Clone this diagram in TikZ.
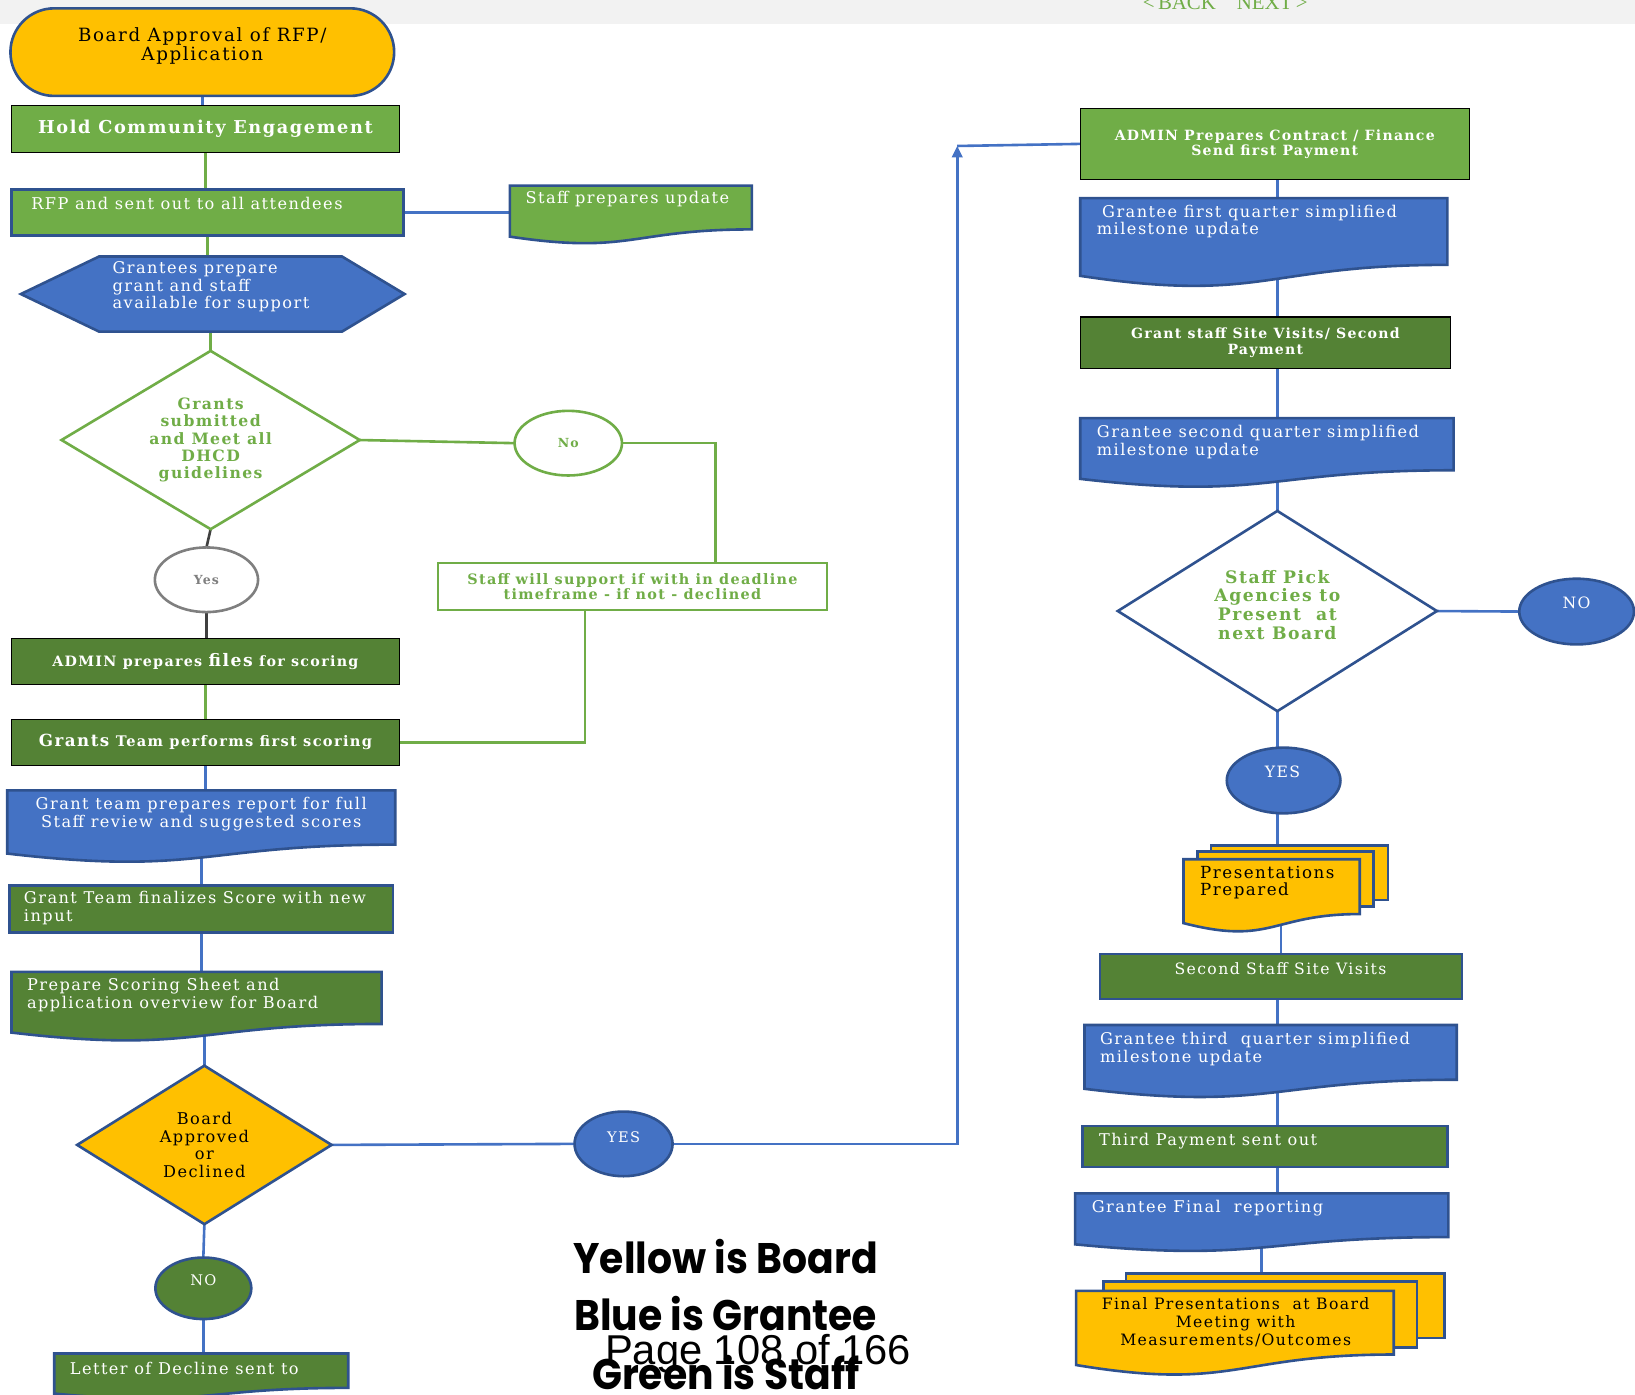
\documentclass[tikz,border=0pt]{standalone}
\usepackage{fontspec}
\setmainfont{DejaVu Serif}[LetterSpace=9]
\newfontfamily\navfont{Liberation Serif}
\newfontfamily\legendfont{Poppins}
\newfontfamily\pagefont{Liberation Sans}
\usepackage{graphicx}
\usepackage{tikz}
\usetikzlibrary{shapes.geometric,positioning,calc,arrows.meta,backgrounds}

\definecolor{gold}{HTML}{FFC000}
\definecolor{gblue}{HTML}{4472C4}
\definecolor{bdr}{HTML}{2F528F}
\definecolor{lgreen}{HTML}{70AD47}
\definecolor{dgreen}{HTML}{548235}
\definecolor{band}{HTML}{F2F2F2}
\definecolor{greyo}{HTML}{7F7F7F}
\definecolor{greyl}{HTML}{404040}

% document shape: box from top to right corner, wavy bottom below it
\newcommand{\docwave}[3]{%
  \filldraw[fill=#3, draw=bdr, line width=2.5pt]
    (#1.north west) -- (#1.north east) -- (#1.south east)
    .. controls ($(#1.south east)!0.5!(#1.south west)$)
    and ($(#1.south east)!0.5!(#1.south west)+(0,0.58*#2)$)
    .. ($(#1.south west)+(0,0.165*#2)$) -- cycle;}

\begin{document}
\begin{tikzpicture}[x=1pt, y=-1pt,
        every node/.style = {inner sep=0pt, outer sep=0pt},
        box/.style = {rectangle, anchor=north west},
        doc/.style = {rectangle, anchor=north west},
        sheet/.style = {rectangle, anchor=north west, fill=gold, draw=bdr, line width=2.5pt},
        bb/.style = {draw=bdr, line width=2.5pt},
        kb/.style = {draw=black, line width=1pt},
        dia/.style = {diamond, aspect=1.6, line width=2.5pt, align=center},
        oval/.style = {ellipse, line width=2.5pt},
        wtxt/.style = {text=white, align=left, font=\fontsize{15.5}{17}\selectfont},
        ktxt/.style = {text=black, align=left, font=\fontsize{15.5}{17}\selectfont},
        wbold/.style = {text=white, align=center, font=\bfseries\fontsize{13.5}{15}\selectfont},
        gbold/.style = {text=lgreen, align=center, font=\bfseries\fontsize{15}{16.7}\selectfont},
        legendtxt/.style = {anchor=base, font=\legendfont\bfseries\fontsize{41}{41}\selectfont},
        bline/.style = {draw=gblue, line width=2.5pt},
        gline/.style = {draw=lgreen, line width=2.5pt},
        kline/.style = {draw=greyl, line width=2.5pt},
        ]
        \useasboundingbox (0,0) rectangle (1568,1337);

        \node[anchor=base, text=lgreen, font=\navfont\fontsize{20}{20}\selectfont] (nav) at (1175,9) {<\,BACK\quad NEXT\,>};

        % left column
        \node[box, rounded corners=42pt, fill=gold, bb, minimum width=368pt, minimum height=84pt] (board) at (10,8) {};
        \node[ktxt, align=center, font=\fontsize{17.5}{19}\selectfont] (board-t) at (194,44) {Board Approval of RFP/\\Application};
        \node[box, fill=lgreen, kb, minimum width=372pt, minimum height=45pt, text=white, font=\bfseries\fontsize{17}{19}\selectfont] (hold) at (11,101) {Hold Community Engagement};
        \node[box, fill=lgreen, bb, minimum width=376pt, minimum height=44pt] (rfp) at (11,182) {};
        \node[wtxt, anchor=west] (rfp-t) at (30,195) {RFP and sent out to all attendees};
        \node[doc, minimum width=232pt, minimum height=42pt] (upd) at (489,178) {};
        \docwave{upd}{42}{lgreen}
        \node[wtxt, anchor=west] (upd-t) at (504,191) {Staff prepares update};
        \node[box, minimum width=368pt, minimum height=72pt] (hex) at (20,246) {};
        \filldraw[fill=gblue, bb] (hex.west) -- ($(hex.north west)+(75,0)$) -- ($(hex.north east)+(-60,0)$) -- (hex.east) -- ($(hex.south east)+(-60,0)$) -- ($(hex.south west)+(75,0)$) -- cycle;
        \node[wtxt, anchor=west] (hex-t) at (108,275) {Grantees prepare\\grant and staff\\available for support};
        \node[dia, aspect=1.67, fill=white, draw=lgreen, minimum width=286pt, minimum height=171pt, gbold] (dec1) at (202,422) {Grants\\submitted\\and Meet all\\DHCD\\guidelines};
        \node[oval, fill=white, draw=lgreen, minimum width=103pt, minimum height=62pt, text=lgreen, font=\bfseries\fontsize{12}{12}\selectfont] (no1) at (545,425) {No};
        \node[box, fill=white, draw=lgreen, line width=2.5pt, minimum width=373pt, minimum height=45pt, gbold, font=\bfseries\fontsize{13.8}{15}\selectfont] (sup) at (420,540) {Staff will support if with in deadline\\timeframe - if not - declined};
        \node[oval, fill=white, draw=greyo, minimum width=99pt, minimum height=62pt, text=greyo, font=\bfseries\fontsize{12}{12}\selectfont] (yes1) at (198,556) {Yes};
        \node[box, fill=dgreen, kb, minimum width=372pt, minimum height=44pt, wbold, font=\bfseries\fontsize{13.7}{15}\selectfont] (adm) at (11,612) {ADMIN prepares {\fontsize{16.5}{16}\selectfont files} for scoring};
        \node[box, fill=dgreen, kb, minimum width=372pt, minimum height=44pt, wbold, font=\bfseries\fontsize{14}{16}\selectfont] (gtm) at (11,690) {{\fontsize{16}{16}\selectfont Grants} Team performs first scoring};
        \node[doc, minimum width=372pt, minimum height=52pt] (rep) at (7,758) {};
        \docwave{rep}{52}{gblue}
        \node[wtxt, align=center] (rep-t) at (193,780.5) {Grant team prepares report for full\\Staff review and suggested scores};
        \node[box, fill=dgreen, bb, minimum width=368pt, minimum height=45pt] (fin) at (9,849) {};
        \node[wtxt, anchor=west] (fin-t) at (23,870.5) {Grant Team finalizes Score with new\\input};
        \node[doc, minimum width=355pt, minimum height=50pt] (shp) at (11,932) {};
        \docwave{shp}{50}{dgreen}
        \node[wtxt, anchor=west] (shp-t) at (26,954) {Prepare Scoring Sheet and\\application overview for Board};
        \node[dia, fill=gold, draw=bdr, minimum width=244pt, minimum height=152pt, ktxt, align=center] (dec2) at (196,1098) {Board\\Approved\\or\\Declined};
        \node[oval, fill=gblue, draw=bdr, minimum width=94pt, minimum height=62pt] (yes2) at (598,1097) {};
        \node[wtxt, font=\fontsize{14}{14}\selectfont] (yes2-t) at (598,1091) {YES};
        \node[oval, fill=dgreen, draw=bdr, minimum width=92pt, minimum height=59pt] (no2) at (195,1235.5) {};
        \node[wtxt, font=\fontsize{14}{14}\selectfont] (no2-t) at (195,1228) {NO};
        \node[doc, minimum width=282pt, minimum height=33pt] (decl) at (52,1298) {};
        \docwave{decl}{33}{dgreen}
        \node[wtxt, anchor=west] (decl-t) at (67,1312) {Letter of Decline sent to};

        % right column
        \node[box, fill=lgreen, kb, minimum width=373pt, minimum height=68pt, wbold, font=\bfseries\fontsize{13.5}{14.5}\selectfont] (con) at (1036,104) {ADMIN Prepares Contract / Finance\\Send first Payment};
        \node[doc, minimum width=352pt, minimum height=64pt] (q1) at (1036,190) {};
        \docwave{q1}{64}{gblue}
        \node[wtxt, anchor=west] (q1-t) at (1052,212.5) {\hspace{5pt}Grantee first quarter simplified\\milestone update};
        \node[box, fill=dgreen, kb, minimum width=355pt, minimum height=49pt, wbold] (vis) at (1036,304) {Grant staff Site Visits/ Second\\Payment};
        \node[doc, minimum width=358pt, minimum height=50pt] (q2) at (1036,401) {};
        \docwave{q2}{50}{gblue}
        \node[wtxt, anchor=west] (q2-t) at (1052,424) {Grantee second quarter simplified\\milestone update};
        \node[dia, fill=white, draw=bdr, minimum width=306pt, minimum height=192pt] (dec3) at (1225,586) {};
        \node[gbold, font=\bfseries\fontsize{16.5}{18}\selectfont] (dec3-t) at (1225,580) {Staff Pick\\Agencies to\\Present~~at\\next Board};
        \node[oval, fill=gblue, draw=bdr, minimum width=110pt, minimum height=63pt] (no3) at (1512,586.5) {};
        \node[wtxt, font=\fontsize{15}{15}\selectfont] (no3-t) at (1512,578) {NO};
        \node[oval, fill=gblue, draw=bdr, minimum width=109pt, minimum height=63pt] (yesb) at (1231,748.5) {};
        \node[wtxt, font=\fontsize{15}{15}\selectfont] (yesb-t) at (1230,740) {YES};
        \node[sheet, minimum width=169.5pt, minimum height=52.3pt] (pp3) at (1161.5,810.7) {};
        \node[sheet, minimum width=168.5pt, minimum height=52.8pt] (pp2) at (1148.5,816.8) {};
        \node[doc, minimum width=169pt, minimum height=52.6pt] (pp1) at (1135,824) {};
        \docwave{pp1}{52.6}{gold}
        \node[ktxt, anchor=west, font=\fontsize{16}{17}\selectfont] (pp-t) at (1151,846.5) {Presentations\\Prepared};
        \node[box, fill=dgreen, bb, minimum width=347pt, minimum height=43pt] (ssv) at (1055,915) {};
        \node[wtxt, font=\fontsize{15}{15}\selectfont] (ssv-t) at (1228,929) {Second Staff Site Visits};
        \node[doc, minimum width=357pt, minimum height=52.5pt] (q3) at (1040,983) {};
        \docwave{q3}{52.5}{gblue}
        \node[wtxt, anchor=west] (q3-t) at (1055,1005.7) {Grantee third\ \ quarter simplified\\milestone update};
        \node[box, fill=dgreen, bb, minimum width=350pt, minimum height=39pt] (tp) at (1038,1080) {};
        \node[wtxt, anchor=west] (tp-t) at (1054,1094.6) {Third Payment sent out};
        \node[doc, minimum width=358pt, minimum height=42pt] (gfr) at (1031,1144.4) {};
        \docwave{gfr}{42}{gblue}
        \node[wtxt, anchor=west] (gfr-t) at (1047,1158.8) {Grantee Final\ \ reporting};
        \node[sheet, minimum width=305pt, minimum height=61.5pt] (fp3) at (1080,1221.5) {};
        \node[sheet, minimum width=301pt, minimum height=63pt] (fp2) at (1058,1229) {};
        \node[doc, minimum width=304.6pt, minimum height=61pt] (fp1) at (1032,1238) {};
        \docwave{fp1}{61}{gold}
        \node[ktxt, align=center, font=\fontsize{15}{17}\selectfont] (fp-t) at (1185,1268) {Final Presentations\ \ at Board\\Meeting with\\Measurements/Outcomes};

        % legend
        \node[legendtxt] (leg1) at (696,1221) {\scalebox{0.92}[1]{Yellow is Board}};
        \node[legendtxt] (leg2) at (696,1276) {\scalebox{0.92}[1]{Blue is Grantee}};
        \node[legendtxt] (leg3) at (696,1333) {\scalebox{0.92}[1]{Green is Staff}};
        \node[anchor=base, font=\pagefont\fontsize{40}{40}\selectfont] (page) at (727,1309) {Page 108 of 166};

        \coordinate (supin) at (686,540);
        \coordinate (supout) at (561,585);
        \coordinate (turn) at (918,140);

        \begin{scope}[on background layer]
        \fill[band] (0,0) rectangle (1568,23);
        \draw[bline] (board.south) -- (board.south |- hold.north);
        \draw[gline] (hold.south) -- (hold.south |- rfp.north);
        \draw[bline] (rfp.east) -- (upd.west |- rfp.east);
        \draw[gline] (rfp.south) -- (rfp.south |- hex.north);
        \draw[gline] (dec1.north) -- (dec1.north |- hex.south);
        \draw[gline] (dec1.east) -- (no1.west);
        \draw[gline] (no1.east) -| (supin);
        \draw[gline] (supout) |- (gtm.east);
        \draw[kline] (dec1.south) -- (yes1.north);
        \draw[kline] (yes1.south) -- (yes1.south |- adm.north);
        \draw[gline] (adm.south) -- (gtm.north);
        \draw[bline] (gtm.south) -- (gtm.south |- rep.north);
        \draw[bline] (rep.south) -- (rep.south |- fin.north);
        \draw[bline] (fin.south) -- (fin.south |- shp.north);
        \draw[bline] (dec2.north) -- (dec2.north |- shp.south);
        \draw[bline] (dec2.east) -- (yes2.west);
        \draw[bline, -{Triangle[length=11pt,width=10pt]}] (yes2.east) -| (turn);
        \draw[bline] (turn) -- (con.west);
        \draw[bline] (dec2.south) -- (no2.north);
        \draw[bline] (no2.south) -- (no2.south |- decl.north);
        \draw[bline] (con.south -| dec3) -- (q1.north -| dec3);
        \draw[bline] (q1.south -| dec3) -- (vis.north -| dec3);
        \draw[bline] (vis.south -| dec3) -- (q2.north -| dec3);
        \draw[bline] (q2.south -| dec3) -- (dec3.north);
        \draw[bline] (dec3.east) -- (no3.west);
        \draw[bline] (dec3.south) -- (yesb.north -| dec3);
        \draw[bline] (yesb.south -| dec3) -- (pp3.north -| dec3);
        \draw[bline] (pp1.south -| ssv) -- (ssv.north);
        \draw[bline] (ssv.south -| dec3) -- (q3.north -| dec3);
        \draw[bline] (q3.south -| dec3) -- (tp.north -| dec3);
        \draw[bline] (tp.south -| dec3) -- (gfr.north -| dec3);
        \draw[bline] (gfr.south) -- (gfr.south |- fp3.north);
        \end{scope}
        \end{tikzpicture}
\end{document}
